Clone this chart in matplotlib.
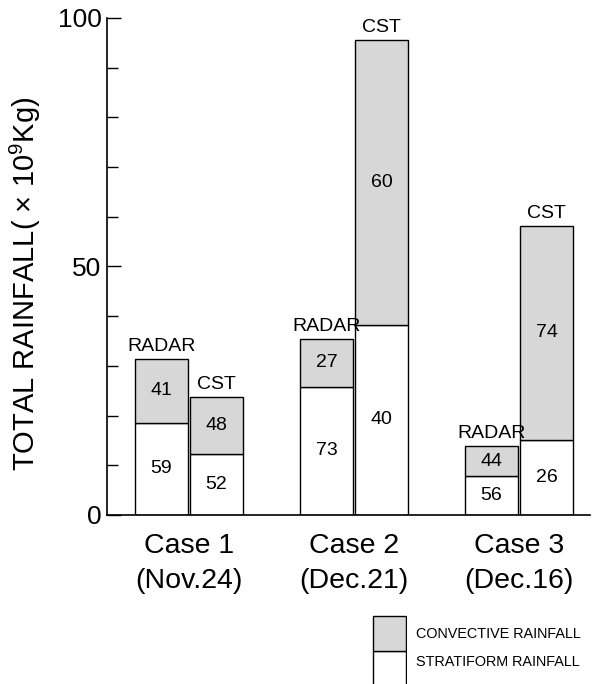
import numpy as np
import matplotlib
matplotlib.use("Agg")
import matplotlib.pyplot as plt
from matplotlib.ticker import MultipleLocator

plt.rcParams["font.family"] = ["Liberation Sans", "DejaVu Sans"]
plt.rcParams["mathtext.default"] = "regular"

# Totals per case (10^9 kg) and convective / stratiform share (%)
cases = ["Case 1\n(Nov.24)", "Case 2\n(Dec.21)", "Case 3\n(Dec.16)"]
radar_total = [31.4, 35.4, 13.9]
cst_total = [23.7, 95.6, 58.2]
radar_conv_pct = [41, 27, 44]
radar_strat_pct = [59, 73, 56]
cst_conv_pct = [48, 60, 74]
cst_strat_pct = [52, 40, 26]

GRAY = "#d7d7d7"
width = 0.321
offset = 0.167

fig = plt.figure(figsize=(5.93, 6.84), dpi=100)
ax = fig.add_axes([0.1804, 0.2471, 0.8146, 0.7266])

x = np.arange(len(cases))


def stacked(xpos, total, strat_pct, conv_pct, name):
    total = np.array(total)
    strat = total * np.array(strat_pct) / 100
    conv = total * np.array(conv_pct) / 100
    ax.bar(xpos, strat, width, color="white", edgecolor="black", linewidth=1.0)
    ax.bar(xpos, conv, width, bottom=strat, color=GRAY, edgecolor="black", linewidth=1.0)
    for xi, s, c, sp, cp in zip(xpos, strat, conv, strat_pct, conv_pct):
        ax.text(xi, s / 2, str(sp), ha="center", va="center", fontsize=14)
        ax.text(xi, s + c / 2, str(cp), ha="center", va="center", fontsize=14)
        ax.annotate(name, (xi, s + c), xytext=(0, 3), textcoords="offset points",
                    ha="center", va="bottom", fontsize=14)


stacked(x - offset, radar_total, radar_strat_pct, radar_conv_pct, "RADAR")
stacked(x + offset, cst_total, cst_strat_pct, cst_conv_pct, "CST")

ax.set_xlim(-0.497, 2.430)
ax.set_ylim(0, 100)
ax.set_xticks(x)
ax.set_xticklabels(cases, fontsize=20.5, linespacing=1.45)
ax.tick_params(axis="x", length=0, pad=13)
ax.set_yticks([0, 50, 100])
ax.yaxis.set_minor_locator(MultipleLocator(10))
ax.tick_params(axis="y", which="both", direction="in", labelsize=19, width=1.0)
ax.tick_params(axis="y", which="major", length=10, pad=4)
ax.tick_params(axis="y", which="minor", length=8)
ax.spines["top"].set_visible(False)
ax.spines["right"].set_visible(False)
ax.spines["left"].set_linewidth(1.2)
ax.spines["bottom"].set_linewidth(1.2)
ax.set_ylabel("TOTAL RAINFALL( × 10$^9$Kg)", fontsize=21)
ax.yaxis.set_label_coords(-0.132, 0.465)

# legend key box in the lower right corner
lax = fig.add_axes([372 / 593, 0.0, 35 / 593, 69 / 684])
lax.bar([0], [1], 1.0, color="white", edgecolor="black", linewidth=1.0)
lax.bar([0], [1], 1.0, bottom=[1], color=GRAY, edgecolor="black", linewidth=1.0)
lax.set_xlim(-0.52, 0.52)
lax.set_ylim(0.05, 2.03)
lax.axis("off")
fig.text(416 / 593, 1 - 634 / 684, "CONVECTIVE RAINFALL", fontsize=10.4, va="center")
fig.text(416 / 593, 1 - 662 / 684, "STRATIFORM RAINFALL", fontsize=10.4, va="center")

fig.savefig("out.png", dpi=100)
